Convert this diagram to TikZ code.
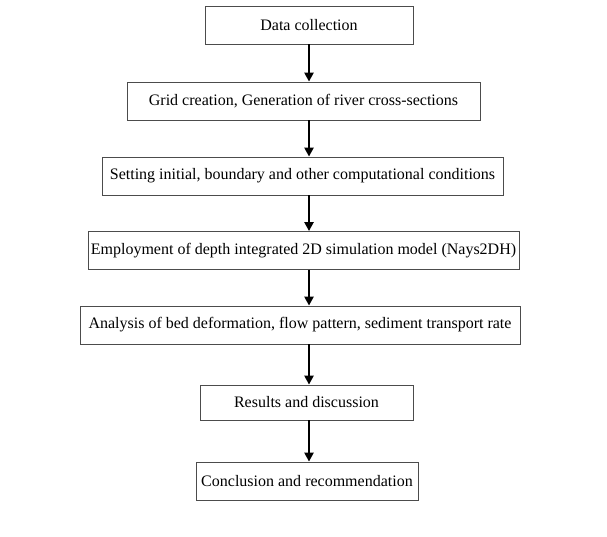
\documentclass[tikz,border=0pt]{standalone}
\usepackage{fontspec}
\setmainfont{Liberation Serif}
\usetikzlibrary{arrows.meta}

\tikzset{
  stepbox/.style={draw=black!70,line width=0.8bp,minimum height=38bp,inner sep=0pt,
    font=\fontsize{16bp}{18bp}\selectfont},
  flow/.style={line width=2.5bp,-{Triangle[width=9bp,length=9bp]}}
}

\begin{document}
\begin{tikzpicture}[x=1bp,y=-1bp]
\useasboundingbox (0,0) rectangle (607,537);
\coordinate (axis) at (309,0);
\node[stepbox,minimum width=208bp] (data) at (309,25) {Data collection};
\node[stepbox,minimum width=353bp] (grid) at (303.5,101) {Grid creation, Generation of river cross-sections};
\node[stepbox,minimum width=401bp] (cond) at (302.5,176) {Setting initial, boundary and other computational conditions};
\node[stepbox,minimum width=431bp] (model) at (303.5,250.5) {Employment of depth integrated 2D simulation model (Nays2DH)};
\node[stepbox,minimum width=440bp] (anal) at (300,325) {Analysis of bed deformation, flow pattern, sediment transport rate};
\node[stepbox,minimum width=213bp,minimum height=35bp] (res) at (306.5,402.5) {Results and discussion};
\node[stepbox,minimum width=222bp] (concl) at (307,481) {Conclusion and recommendation};
\draw[flow] (data.south -| axis) -- (grid.north -| axis);
\draw[flow] (grid.south -| axis) -- (cond.north -| axis);
\draw[flow] (cond.south -| axis) -- (model.north -| axis);
\draw[flow] (model.south -| axis) -- (anal.north -| axis);
\draw[flow] (anal.south -| axis) -- (res.north -| axis);
\draw[flow] (res.south -| axis) -- (concl.north -| axis);
\end{tikzpicture}
\end{document}
